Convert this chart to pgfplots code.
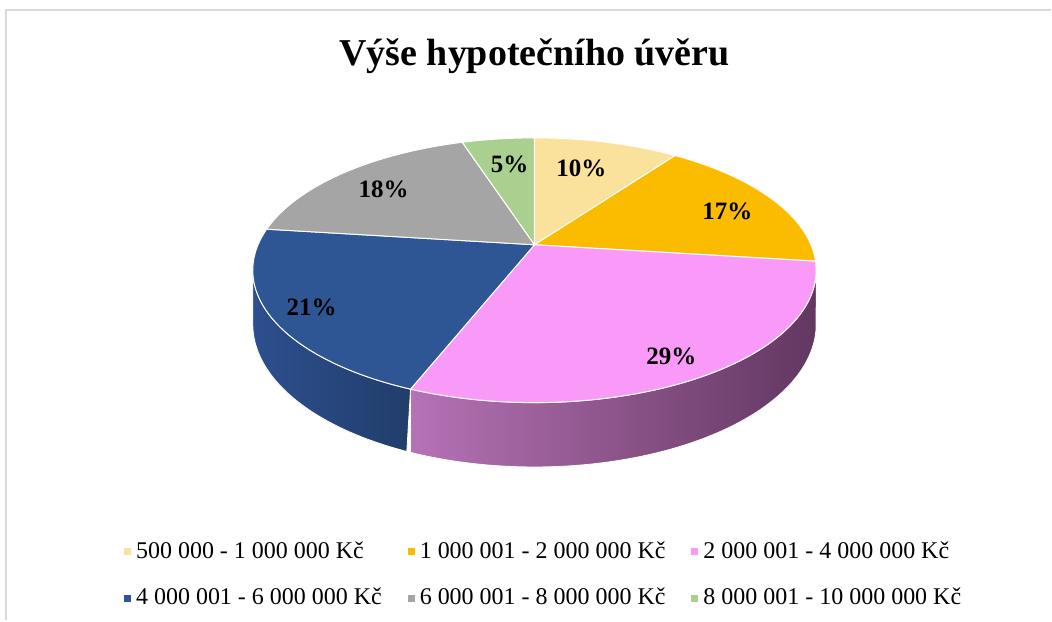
\documentclass[border=0pt]{standalone}
\usepackage{pgfplots}
\pgfplotsset{compat=1.18}
\usepackage{pgfplotstable}
\usepackage{fontspec}
\setmainfont{Liberation Serif}

\definecolor{cA}{HTML}{FAE29C}
\definecolor{cB}{HTML}{FBBC00}
\definecolor{cC}{HTML}{F99AF9}
\definecolor{cD}{HTML}{2E5594}
\definecolor{cE}{HTML}{A5A5A5}
\definecolor{cF}{HTML}{A9D08E}
\definecolor{sideCL}{HTML}{B672B6}
\definecolor{sideCM}{HTML}{6C3D6A}
\definecolor{sideCR}{HTML}{623760}
\definecolor{sideDL}{HTML}{2D4F8E}
\definecolor{sideDR}{HTML}{213D6B}
\definecolor{frame}{HTML}{D9D9D9}

% shares of the pie, in percent
\pgfplotstableread{
p
10
17
29
21
18
5
}\pietable

\begin{document}
\begin{tikzpicture}
% cumulative angles (clockwise from 12 o'clock)
\pgfmathsetmacro{\aZ}{90}
\pgfplotstablegetelem{0}{p}\of\pietable \pgfmathsetmacro{\aA}{\aZ-3.6*\pgfplotsretval}
\pgfplotstablegetelem{1}{p}\of\pietable \pgfmathsetmacro{\aB}{\aA-3.6*\pgfplotsretval}
\pgfplotstablegetelem{2}{p}\of\pietable \pgfmathsetmacro{\aC}{\aB-3.6*\pgfplotsretval}
\pgfplotstablegetelem{3}{p}\of\pietable \pgfmathsetmacro{\aD}{\aC-3.6*\pgfplotsretval}
\pgfplotstablegetelem{4}{p}\of\pietable \pgfmathsetmacro{\aE}{\aD-3.6*\pgfplotsretval}
\pgfplotstablegetelem{5}{p}\of\pietable \pgfmathsetmacro{\aF}{\aE-3.6*\pgfplotsretval}
% visible front side limits
\pgfmathsetmacro{\ext}{asin(0.1925)}
\pgfmathsetmacro{\sCl}{max(\aC,-180+\ext)}
\pgfmathsetmacro{\sCh}{min(\aB,-\ext)}
\pgfmathsetmacro{\sCe}{2*\sCh-\sCl}
\pgfmathsetmacro{\sDl}{max(\aD,-180+\ext)}
\pgfmathsetmacro{\sDh}{min(\aC,-\ext)}
\pgfmathsetmacro{\sDe}{2*\sDh-\sDl}
\begin{axis}[
  width=1052pt, height=621pt, scale only axis,
  xmin=0, xmax=1052, ymin=0, ymax=621, y dir=reverse,
  hide axis, clip=false,
  declare function={
    ww(\t)=1+0.1925*sin(\t);
    px(\t)=535+276.7*cos(\t)/ww(\t);
    py(\t)=245-127.6*sin(\t)/ww(\t);
    pb(\t)=py(\t)+52/ww(\t);
  },
  legend columns=3,
  legend style={
    at={(axis cs:124,540)}, anchor=north west,
    draw=none, fill=none, inner sep=0pt,
    font=\fontsize{24}{27}\selectfont,
    nodes={inner sep=2pt, anchor=base west},
    /tikz/column sep=0pt,
    /tikz/row sep=24pt,
    /tikz/every odd column/.append style={column sep=3pt},
    /tikz/every even column/.append style={column sep=24pt},
  },
  legend image code/.code={\fill[#1, draw=none] (0pt,3pt) rectangle (7pt,10pt);},
]
% background and frame
\fill[white] (axis cs:0,0) rectangle (axis cs:1052,621);
\draw[frame, line width=2pt] (axis cs:6,621) -- (axis cs:6,10) -- (axis cs:1052,10);

% front side bands
\addplot[forget plot, draw=white, line width=0.8pt, left color=sideCL, middle color=sideCM, right color=sideCR,
  domain=\sCl:\sCe, samples=161, variable=\t]
  ({px(\t<=\sCh ? \t : 2*\sCh-\t)}, {\t<=\sCh ? py(\t) : pb(2*\sCh-\t)}) -- cycle;
\addplot[forget plot, draw=white, line width=0.8pt, left color=sideDL, right color=sideDR,
  domain=\sDl:\sDe, samples=161, variable=\t]
  ({px(\t<=\sDh ? \t : 2*\sDh-\t)}, {\t<=\sDh ? py(\t) : pb(2*\sDh-\t)}) -- cycle;

% top faces
\addplot[fill=cA, draw=white, line width=1pt, domain=\aA:\aZ, samples=40, variable=\t]
  ({px(\t)},{py(\t)}) -- (axis cs:535,245) -- cycle;
\addlegendentry{500 000 - 1 000 000 Kč}
\addplot[fill=cB, draw=white, line width=1pt, domain=\aB:\aA, samples=60, variable=\t]
  ({px(\t)},{py(\t)}) -- (axis cs:535,245) -- cycle;
\addlegendentry{1 000 001 - 2 000 000 Kč}
\addplot[fill=cC, draw=white, line width=1pt, domain=\aC:\aB, samples=90, variable=\t]
  ({px(\t)},{py(\t)}) -- (axis cs:535,245) -- cycle;
\addlegendentry{2 000 001 - 4 000 000 Kč}
\addplot[fill=cD, draw=white, line width=1pt, domain=\aD:\aC, samples=70, variable=\t]
  ({px(\t)},{py(\t)}) -- (axis cs:535,245) -- cycle;
\addlegendentry{4 000 001 - 6 000 000 Kč}
\addplot[fill=cE, draw=white, line width=1pt, domain=\aE:\aD, samples=60, variable=\t]
  ({px(\t)},{py(\t)}) -- (axis cs:535,245) -- cycle;
\addlegendentry{6 000 001 - 8 000 000 Kč}
\addplot[fill=cF, draw=white, line width=1pt, domain=\aF:\aE, samples=20, variable=\t]
  ({px(\t)},{py(\t)}) -- (axis cs:535,245) -- cycle;
\addlegendentry{8 000 001 - 10 000 000 Kč}

% data labels
\begin{scope}[every node/.style={font=\fontsize{25}{28}\selectfont\bfseries, anchor=center, inner sep=0pt}]
\node at (axis cs:582,169) {10\%};
\node at (axis cs:728,212) {17\%};
\node at (axis cs:672,357) {29\%};
\node at (axis cs:312,308) {21\%};
\node at (axis cs:384,190) {18\%};
\node at (axis cs:510,165) {5\%};
\end{scope}

% title
\node[anchor=base, font=\fontsize{38}{42}\selectfont\bfseries] at (axis cs:535,66) {Výše hypotečního úvěru};
\end{axis}
\end{tikzpicture}
\end{document}
